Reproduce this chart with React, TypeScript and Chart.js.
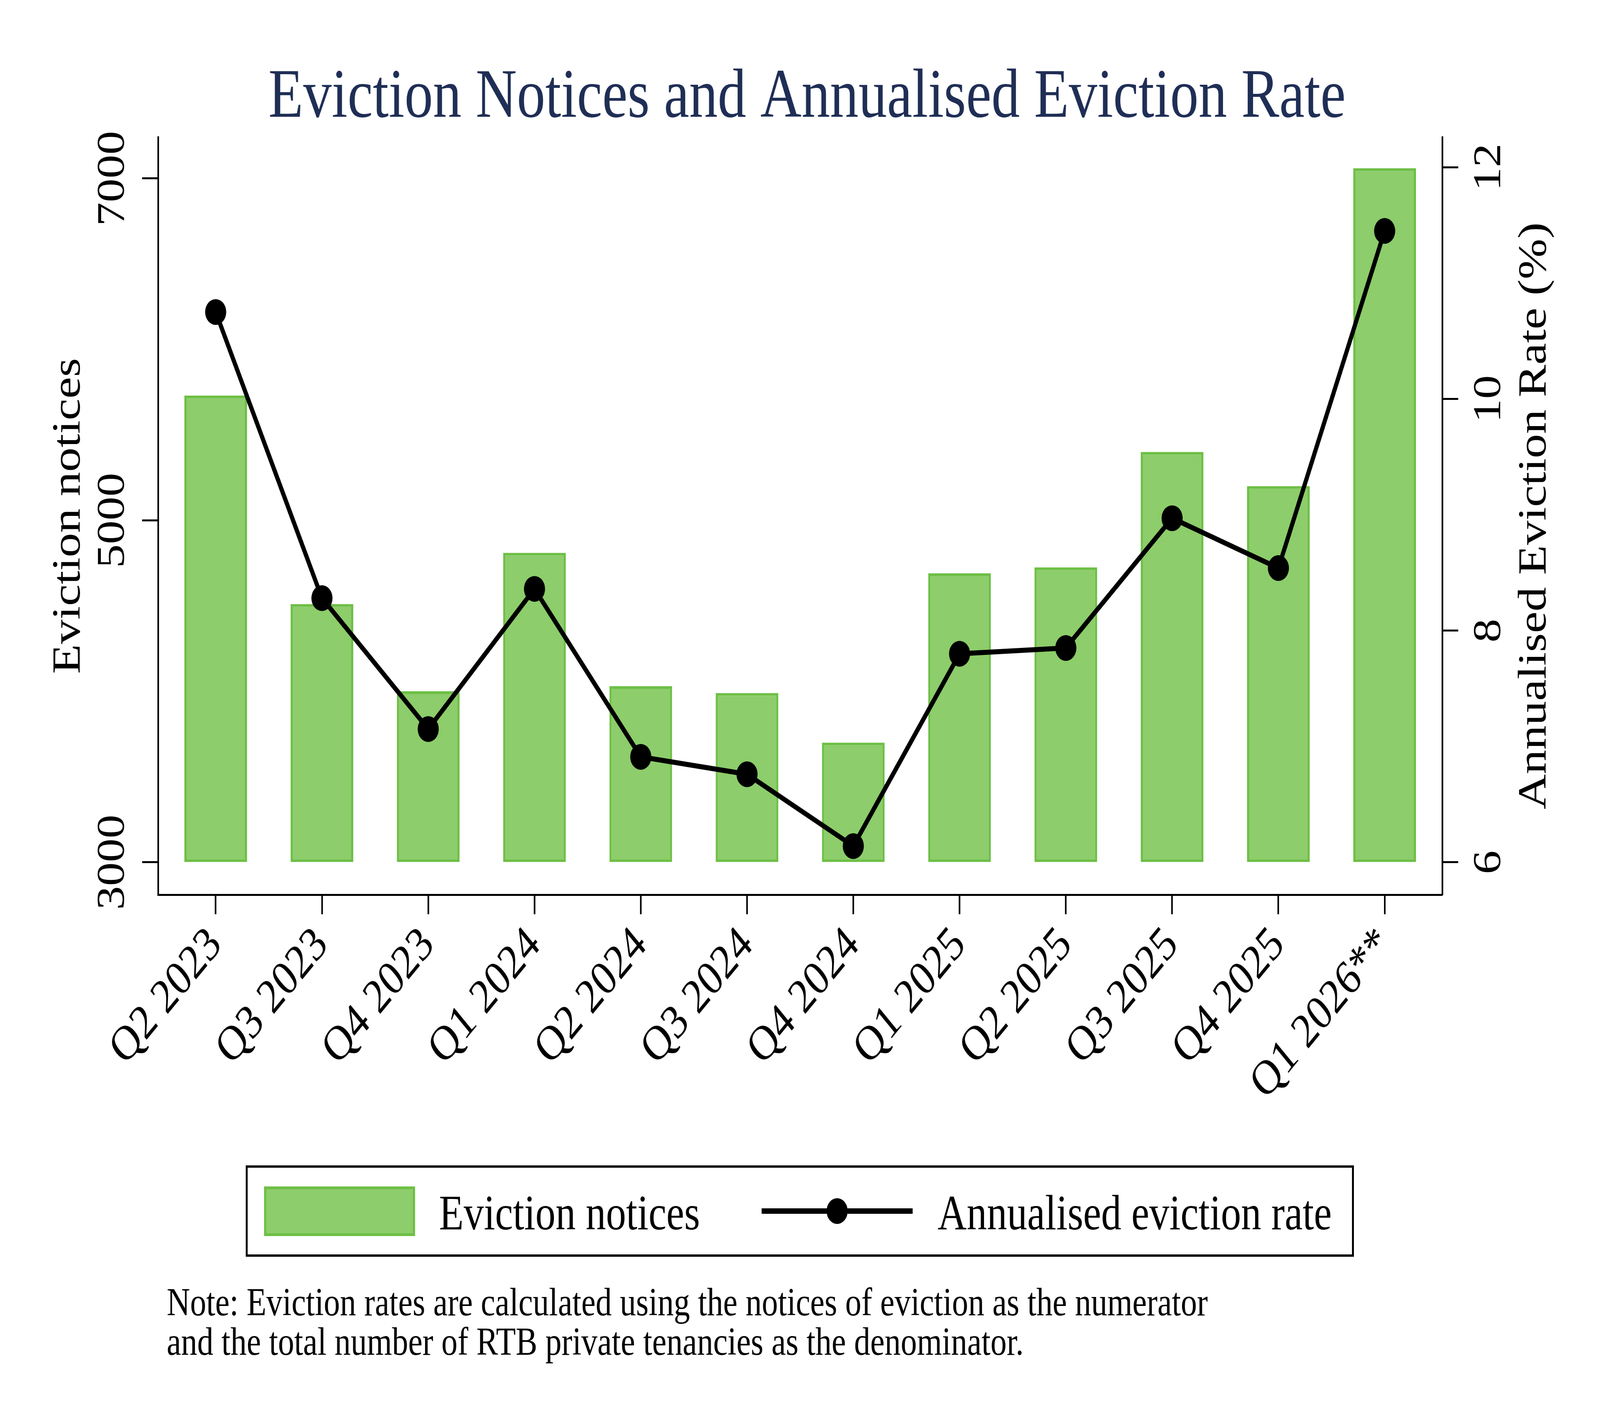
import { useEffect, useRef } from "react"
import { Chart, registerables } from "chart.js"

Chart.register(...registerables)

const categories = [
  "Q2 2023", "Q3 2023", "Q4 2023", "Q1 2024", "Q2 2024", "Q3 2024",
  "Q4 2024", "Q1 2025", "Q2 2025", "Q3 2025", "Q4 2025", "Q1 2026**",
]
const evictionNotices = [5730, 4510, 4000, 4810, 4030, 3990, 3700, 4690, 4725, 5400, 5200, 7060]
const evictionRate = [10.75, 8.28, 7.15, 8.36, 6.91, 6.76, 6.14, 7.8, 7.85, 8.97, 8.54, 11.45]
const noticeTicks = [3000, 5000, 7000]
const rateTicks = [6, 8, 10, 12]

const title = "Eviction Notices and Annualised Eviction Rate"
const leftTitle = "Eviction notices"
const rightTitle = "Annualised Eviction Rate (%)"
const noteLines = [
  "Note: Eviction rates are calculated using the notices of eviction as the numerator",
  "and the total number of RTB private tenancies as the denominator.",
]

const FONT = "'Liberation Serif', 'Times New Roman', serif"
const BAR_FILL = "#8dcd6b"
const BAR_EDGE = "#6dbf45"
const NAVY = "#1f2e55"

// the chart is laid out on a 5000 x 3636 design grid
const W = 5000
const H = 3636

// titles, legend and note drawn on the canvas
const overlay = {
  id: "overlay",
  afterDraw(chart: Chart) {
    const ctx = chart.ctx
    const { top, bottom } = chart.chartArea
    const midY = (top + bottom) / 2
    ctx.save()

    ctx.fillStyle = NAVY
    ctx.font = `178px ${FONT}`
    ctx.textAlign = "center"
    ctx.textBaseline = "alphabetic"
    ctx.fillText(title, 2522, 299)

    ctx.fillStyle = "#000"
    ctx.font = `125px ${FONT}`
    ctx.textBaseline = "middle"
    for (const [x, text] of [[216, leftTitle], [4797, rightTitle]] as [number, string][]) {
      ctx.save()
      ctx.translate(x, midY)
      ctx.rotate(-Math.PI / 2)
      ctx.fillText(text, 0, 0)
      ctx.restore()
    }

    // legend
    ctx.lineWidth = 6
    ctx.strokeStyle = "#000"
    ctx.strokeRect(771, 2987, 4228 - 771, 3215 - 2987)

    ctx.fillStyle = BAR_FILL
    ctx.fillRect(825, 3038, 472, 127)
    ctx.lineWidth = 7
    ctx.strokeStyle = BAR_EDGE
    ctx.strokeRect(828.5, 3041.5, 465, 120)

    ctx.strokeStyle = "#000"
    ctx.lineWidth = 14
    ctx.beginPath()
    ctx.moveTo(2380, 3101)
    ctx.lineTo(2852, 3101)
    ctx.stroke()
    ctx.fillStyle = "#000"
    ctx.beginPath()
    ctx.arc(2616, 3101, 33, 0, Math.PI * 2)
    ctx.fill()

    ctx.font = `126px ${FONT}`
    ctx.textAlign = "left"
    ctx.textBaseline = "alphabetic"
    ctx.fillText("Eviction notices", 1372, 3148)
    ctx.fillText("Annualised eviction rate", 2930, 3148)

    // note
    ctx.font = `101px ${FONT}`
    noteLines.forEach((line, i) => ctx.fillText(line, 521, 3368 + i * 101))

    ctx.restore()
  },
}

const fixWidth = (w: number) => (scale: any) => {
  scale.width = w
  scale.paddingTop = 0
  scale.paddingBottom = 0
  scale.paddingLeft = 0
  scale.paddingRight = 0
}

export default function App() {
  const canvasRef = useRef<HTMLCanvasElement>(null)
  const chartRef = useRef<Chart | null>(null)

  document.body.style.margin = "0"
  document.body.style.overflow = "hidden"
  // stretch the design grid over the whole window
  const sx = window.innerWidth / W
  const sy = window.innerHeight / H

  useEffect(() => {
    if (!canvasRef.current) return
    if (chartRef.current) chartRef.current.destroy()

    const axisGrid = {
      offset: false,
      drawOnChartArea: false,
      drawTicks: true,
      tickLength: 50,
      tickWidth: 5,
      tickColor: "#000",
    }
    const axisBorder = { display: true, color: "#000", width: 5 }
    const tickFont = { family: FONT, size: 122 }

    chartRef.current = new Chart(canvasRef.current, {
      type: "bar",
      data: {
        datasets: [
          {
            type: "line",
            label: "Annualised eviction rate",
            data: evictionRate.map((v, i) => ({ x: i, y: v })),
            yAxisID: "y1",
            borderColor: "#000",
            borderWidth: 13,
            pointRadius: 33,
            pointBackgroundColor: "#000",
            pointBorderWidth: 0,
            tension: 0,
            order: 0,
          },
          {
            type: "bar",
            label: "Eviction notices",
            data: evictionNotices.map((v, i) => ({ x: i, y: v })),
            yAxisID: "y",
            base: 3000,
            backgroundColor: BAR_FILL,
            borderColor: BAR_EDGE,
            borderWidth: 7,
            borderSkipped: false,
            categoryPercentage: 1,
            barPercentage: 0.59,
            order: 1,
          },
        ] as any,
      },
      options: {
        responsive: false,
        animation: false,
        devicePixelRatio: 1,
        layout: { padding: { top: 351, bottom: 745, left: 0, right: 0 } },
        plugins: {
          legend: { display: false },
          title: { display: false },
          tooltip: { enabled: false },
        },
        scales: {
          x: {
            type: "linear",
            offset: false,
            min: -0.542,
            max: 11.542,
            afterBuildTicks: (axis: any) => {
              axis.ticks = categories.map((_, i) => ({ value: i }))
            },
            afterFit: (scale: any) => {
              scale.height = 600
              scale.paddingLeft = 0
              scale.paddingRight = 0
              scale.paddingTop = 0
              scale.paddingBottom = 0
            },
            grid: axisGrid,
            border: axisBorder,
            ticks: {
              autoSkip: false,
              minRotation: 45,
              maxRotation: 45,
              padding: 6,
              color: "#000",
              font: { family: FONT, size: 125 },
              callback: (value: any) => categories[Number(value)] ?? "",
            },
          },
          y: {
            type: "linear",
            position: "left",
            min: 2810,
            max: 7242,
            afterBuildTicks: (axis: any) => {
              axis.ticks = noticeTicks.map((v) => ({ value: v }))
            },
            afterFit: fixWidth(494),
            grid: axisGrid,
            border: axisBorder,
            ticks: {
              minRotation: 90,
              maxRotation: 90,
              crossAlign: "center",
              padding: -33,
              color: "#000",
              font: tickFont,
              callback: (value: any) => String(value),
            },
          },
          y1: {
            type: "linear",
            position: "right",
            min: 5.72,
            max: 12.26,
            afterBuildTicks: (axis: any) => {
              axis.ticks = rateTicks.map((v) => ({ value: v }))
            },
            afterFit: fixWidth(493),
            grid: axisGrid,
            border: axisBorder,
            ticks: {
              minRotation: 90,
              maxRotation: 90,
              crossAlign: "center",
              padding: 38,
              color: "#000",
              font: tickFont,
              callback: (value: any) => String(value),
            },
          },
        },
      },
      plugins: [overlay],
    } as any)

    return () => {
      if (chartRef.current) {
        chartRef.current.destroy()
        chartRef.current = null
      }
    }
  }, [])

  return (
    <div style={{ width: W * sx, height: H * sy, overflow: "hidden", background: "#fff" }}>
      <div style={{ width: W, height: H, transform: `scale(${sx}, ${sy})`, transformOrigin: "0 0" }}>
        <canvas ref={canvasRef} width={W} height={H} style={{ display: "block" }}></canvas>
      </div>
    </div>
  )
}
